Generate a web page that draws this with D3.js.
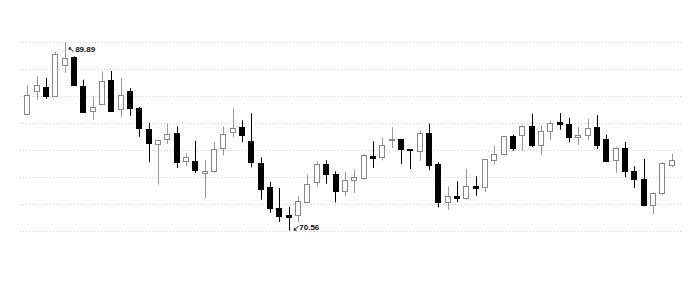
<!DOCTYPE html>
<html lang="en">
<head>
<meta charset="utf-8">
<title>Candlestick</title>
<script type="text/javascript" src="https://d3js.org/d3.v7.min.js"></script>
<style type="text/css">
  body { margin: 0; background: #fff; }
  .grid line { stroke: #cfcfcf; stroke-dasharray: 1,2; }
  .label { font-family: "Liberation Sans", Arial, sans-serif; font-size: 8px; font-weight: bold; fill: #111; }
</style>
</head>
<body>
<script type="text/javascript">
// OHLC values, one entry per candle
var open = [82.53,84.86,85.33,84.45,87.53,88.38,85.38,82.87,83.49,86.05,
            83.08,84.92,83.15,81.03,79.46,79.97,80.58,77.68,77.68,76.41,
            76.65,79.05,80.69,81.17,79.73,77.51,75.01,72.89,72.20,72.14,
            73.58,75.56,77.40,76.41,74.71,75.69,75.90,78.26,78.12,79.90,
            80.00,78.94,78.71,80.58,77.40,73.50,74.09,73.84,75.12,75.04,
            77.78,78.43,80.31,80.31,81.27,79.32,80.76,81.71,81.54,80.14,
            80.41,81.17,79.97,77.84,79.05,76.72,75.86,73.17,74.43,77.33];
var high = [85.48,86.40,86.23,88.89,89.89,88.45,86.05,84.35,86.91,86.95,
            86.23,85.20,83.25,81.61,79.90,81.54,81.27,78.53,79.79,77.84,
            79.66,81.27,83.08,81.89,82.64,78.09,75.56,74.94,72.99,74.09,
            76.31,77.68,77.78,76.65,76.55,76.82,78.43,79.73,80.14,81.17,
            80.00,78.94,80.76,81.54,77.58,75.12,75.63,76.89,76.14,77.92,
            79.32,80.25,80.41,81.37,82.56,81.37,81.85,82.64,82.12,81.17,
            82.05,82.40,80.41,79.12,79.66,77.17,77.92,74.50,77.61,78.43];
var low = [82.40,84.00,84.10,84.40,86.77,85.51,82.64,81.95,83.45,82.88,
           82.19,82.36,80.20,77.58,75.28,79.46,76.99,77.17,76.48,73.92,
           76.48,78.30,80.17,79.66,77.06,73.74,72.38,71.45,70.56,71.45,
           73.50,75.12,75.38,73.47,74.09,74.43,75.79,76.99,77.78,79.05,
           77.40,76.89,77.74,76.76,72.96,72.71,73.50,73.74,74.15,74.53,
           77.33,78.30,78.77,78.77,79.15,78.36,79.84,80.92,79.63,79.38,
           79.84,78.94,77.68,76.48,76.04,74.94,73.06,72.27,74.25,77.06];
var close = [84.51,85.48,84.45,88.72,88.28,85.54,82.71,83.28,85.89,82.91,
             84.51,83.15,81.10,79.63,79.90,80.51,77.58,78.12,76.76,76.65,
             78.94,80.51,81.10,80.35,77.58,74.84,72.89,72.04,71.97,73.58,
             75.38,77.40,76.38,74.66,75.79,76.04,78.30,78.09,79.38,80.00,
             78.94,78.81,80.58,77.33,73.47,74.09,73.92,75.12,74.94,77.92,
             78.43,80.25,79.05,81.27,79.28,80.76,81.61,81.54,80.17,80.35,
             81.10,79.28,77.74,79.05,76.65,75.90,73.17,74.43,77.51,77.84];

var width = 700, height = 282;

var data = open.map(function(o, i) {
    return {i: i, open: o, high: high[i], low: low[i], close: close[i]};
});

var hi = d3.max(high), lo = d3.min(low);
var hiIdx = high.indexOf(hi), loIdx = low.indexOf(lo);

var x = d3.scaleBand()
    .domain(data.map(function(d) { return d.i; }))
    .range([22.6, 676.4])
    .paddingInner(0.36)
    .paddingOuter(0.18);

var y = d3.scaleLinear()
    .domain([lo, hi])
    .range([230.7, 42.3]);

var svg = d3.select("body").append("svg")
    .attr("width", width)
    .attr("height", height);

// dotted gridlines: the range split into 7 equal parts
var gridVals = d3.range(8).map(function(k) { return lo + k * (hi - lo) / 7; });
svg.append("g").attr("class", "grid")
    .selectAll("line")
    .data(gridVals)
    .enter().append("line")
    .attr("x1", 20).attr("x2", 683)
    .attr("y1", function(v) { return Math.round(y(v)) + 0.5; })
    .attr("y2", function(v) { return Math.round(y(v)) + 0.5; });

function cx(d) { return Math.round(x(d.i) + x.bandwidth() / 2) + 0.5; }
function up(d) { return d.close >= d.open; }

var candles = svg.append("g").selectAll("g")
    .data(data)
    .enter().append("g");

candles.append("line")
    .attr("x1", cx).attr("x2", cx)
    .attr("y1", function(d) { return y(d.high); })
    .attr("y2", function(d) { return y(d.low); })
    .attr("stroke", function(d) { return up(d) ? "#999" : "#000"; })
    .attr("stroke-width", 1);

candles.append("rect")
    .attr("x", function(d) { return Math.round(x(d.i)) + 0.5; })
    .attr("width", Math.round(x.bandwidth()) - 1)
    .attr("y", function(d) { return Math.round(y(Math.max(d.open, d.close))) + 0.5; })
    .attr("height", function(d) {
        return Math.max(1, Math.round(y(Math.min(d.open, d.close)) - y(Math.max(d.open, d.close))));
    })
    .attr("fill", function(d) { return up(d) ? "#fff" : "#000"; })
    .attr("stroke", function(d) { return up(d) ? "#888" : "#000"; })
    .attr("stroke-width", 1);

// max / min annotations
var hx = x(hiIdx) + x.bandwidth() / 2, hy = y(hi);
svg.append("path")
    .attr("d", "M" + (hx + 9) + "," + (hy + 9.5) + "L" + (hx + 4.5) + "," + (hy + 5.5)
        + "M" + (hx + 4.5) + "," + (hy + 5.5) + "l2.2,0.2 M" + (hx + 4.5) + "," + (hy + 5.5) + "l0.2,2.2")
    .attr("stroke", "#111").attr("stroke-width", 1).attr("fill", "none");
svg.append("text").attr("class", "label")
    .attr("x", hx + 10.5).attr("y", hy + 10)
    .text(hi.toFixed(2));

var lx = x(loIdx) + x.bandwidth() / 2, ly = y(lo);
svg.append("path")
    .attr("d", "M" + (lx + 9.5) + "," + (ly - 4.5) + "L" + (lx + 5.5) + "," + (ly - 0.5)
        + "M" + (lx + 5.5) + "," + (ly - 0.5) + "l0.2,-2.2 M" + (lx + 5.5) + "," + (ly - 0.5) + "l2.2,0.2")
    .attr("stroke", "#111").attr("stroke-width", 1).attr("fill", "none");
svg.append("text").attr("class", "label")
    .attr("x", lx + 10.5).attr("y", ly - 0.5)
    .text(lo.toFixed(2));
</script>
</body>
</html>
